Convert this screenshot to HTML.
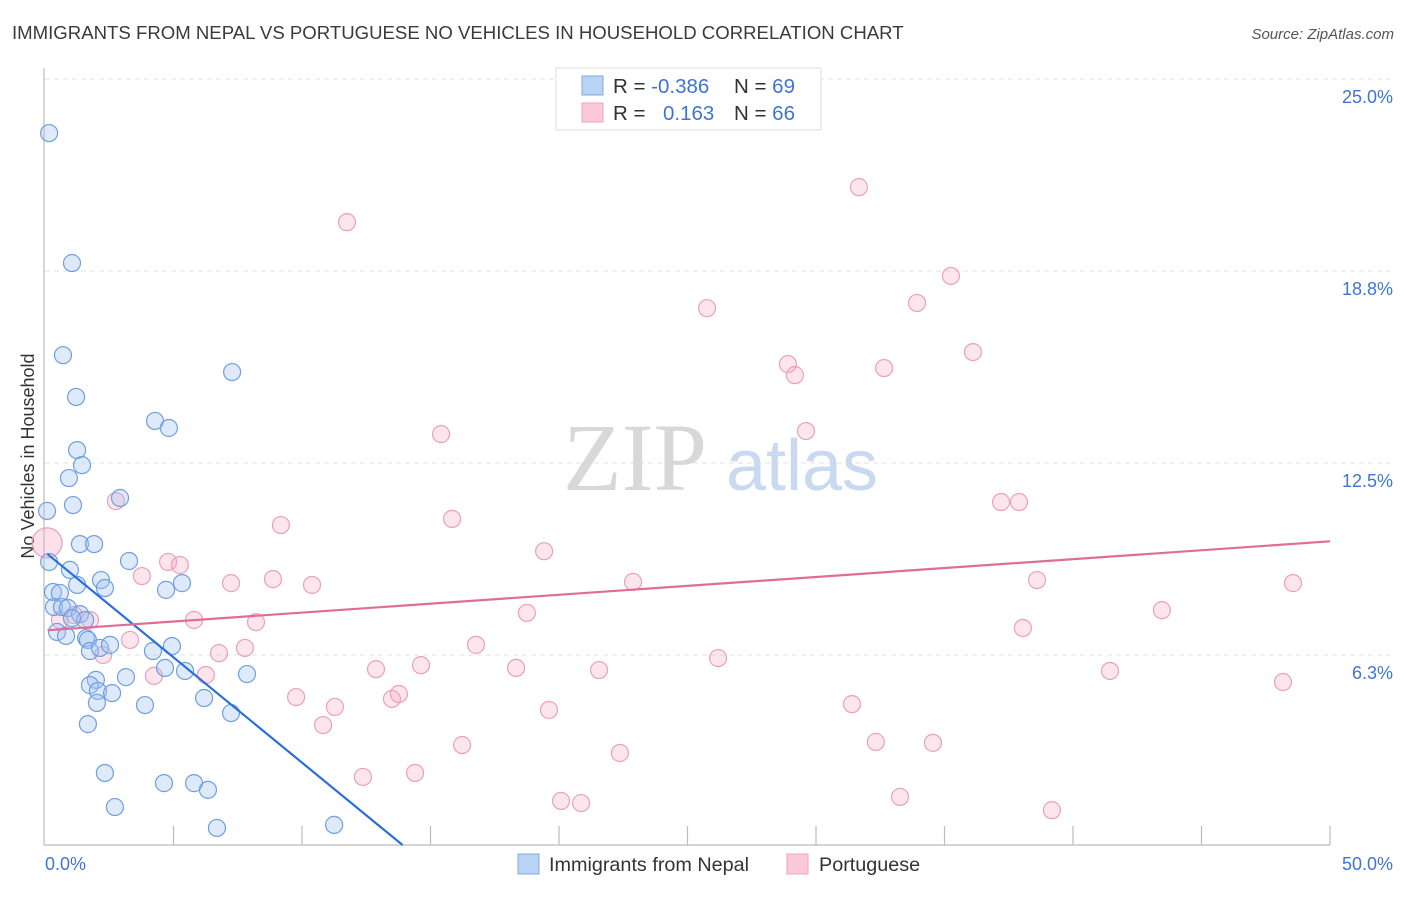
<!DOCTYPE html>
<html><head><meta charset="utf-8">
<style>
body{margin:0;background:#fff;font-family:"Liberation Sans",sans-serif;}
svg text{font-family:"Liberation Sans",sans-serif;}
</style></head>
<body>
<svg id="chart" width="1406" height="892" viewBox="0 0 1406 892">
<text x="12" y="39" font-size="18.6" fill="#3a3a3a">IMMIGRANTS FROM NEPAL VS PORTUGUESE NO VEHICLES IN HOUSEHOLD CORRELATION CHART</text>
<text x="1394" y="39" font-size="15" fill="#555" font-style="italic" text-anchor="end">Source: ZipAtlas.com</text>
<g id="grid"></g>
<g id="watermark">
<text x="635" y="490" font-size="96" fill="#d8d8d8" font-family="Liberation Serif,serif" text-anchor="middle" style="font-family:'Liberation Serif',serif">ZIP</text>
<text x="802" y="490" font-size="72" fill="#c9d9ef" text-anchor="middle">atlas</text>
</g>
<line x1="44" y1="68" x2="44" y2="845" stroke="#bbb" stroke-width="1.2"/>
<line x1="44" y1="845" x2="1330" y2="845" stroke="#bbb" stroke-width="1.2"/>
<g id="xticks"></g>
<g id="ylabels"></g>
<text x="45" y="870" font-size="18" fill="#3f74d6">0.0%</text>
<text x="1393" y="870" font-size="18" fill="#3f74d6" text-anchor="end">50.0%</text>
<text transform="translate(34,456) rotate(-90)" font-size="18" fill="#333" text-anchor="middle">No Vehicles in Household</text>
<g id="pinkpts"></g>
<g id="bluepts"></g>
<g id="lines"></g>
<g>
<rect x="556" y="68" width="265" height="62" fill="#fff" stroke="#ddd"/>
<rect x="582" y="76" width="21" height="19" fill="#b9d3f5" stroke="#7fa8e0"/>
<rect x="582" y="103" width="21" height="19" fill="#fbc9d8" stroke="#eea3bb"/>
<text x="613" y="93" font-size="20.5" fill="#333">R = <tspan fill="#3f74d6">-0.386</tspan></text>
<text x="734" y="93" font-size="20.5" fill="#333">N = <tspan fill="#3f74d6">69</tspan></text>
<text x="613" y="120" font-size="20.5" fill="#333">R = </text>
<text x="663" y="120" font-size="20.5" fill="#3f74d6">0.163</text>
<text x="734" y="120" font-size="20.5" fill="#333">N = <tspan fill="#3f74d6">66</tspan></text>
</g>
<g>
<rect x="518" y="854" width="21" height="20" fill="#b9d3f5" stroke="#7fa8e0"/>
<text x="549" y="871" font-size="19.8" fill="#333">Immigrants from Nepal</text>
<rect x="787" y="854" width="21" height="20" fill="#fbc9d8" stroke="#eea3bb"/>
<text x="819" y="871" font-size="19.8" fill="#333">Portuguese</text>
</g>
</svg>
<script>
const yTicks=[6.25,12.5,18.75,25];
const yTickLabels=["6.3%","12.5%","18.8%","25.0%"];
const xTicks=[5,10,15,20,25,30,35,40,45,50];
const blueX=[.16,1.05,.70,1.21,1.25,1.44,.93,1.09,.08,1.36,1.91,.16,.97,2.18,2.33,1.25,.31,.58,.35,.66,.89,1.36,1.56,.47,.82,1.60,1.67,1.75,2.14,2.53,2.92,3.27,5.33,4.71,4.28,4.82,7.28,4.94,4.20,4.67,5.45,3.15,1.98,1.75,2.06,2.61,2.02,3.89,6.19,7.24,7.86,1.67,2.33,4.63,5.80,6.34,2.72,6.69,11.25,1.05];
const blueY=[23.24,19.01,16.01,14.65,12.92,12.43,12.01,11.13,10.94,9.86,9.86,9.28,9.02,8.69,8.43,8.53,8.30,8.27,7.81,7.81,7.78,7.58,7.39,7.00,6.87,6.80,6.74,6.38,6.48,6.58,11.36,9.31,8.59,8.37,13.87,13.64,15.46,6.54,6.38,5.83,5.73,5.53,5.44,5.27,5.08,5.01,4.69,4.62,4.85,4.36,5.63,4.00,2.41,2.08,2.08,1.86,1.30,.62,.72,7.45];
const pinkX=[11.75,31.67,35.25,25.76,33.93,36.11,28.91,29.18,32.65,15.41,29.61,15.84,9.18,37.20,37.90,2.76,19.42,3.77,4.79,5.25,7.24,8.87,10.39,22.88,38.60,48.56,5.80,8.21,43.46,18.75,38.05,.58,1.75,3.31,2.26,6.77,7.78,16.77,4.24,6.26,12.88,14.63,18.33,21.56,26.19,41.44,48.17,9.77,13.50,13.77,11.28,19.61,31.40,10.82,16.23,22.37,32.33,34.55,12.37,14.40,20.08,20.86,33.27,39.18,1.13];
const pinkY=[20.34,21.48,18.59,17.54,17.71,16.11,15.72,15.36,15.59,13.44,13.54,10.68,10.48,11.23,11.23,11.26,9.63,8.82,9.28,9.18,8.59,8.72,8.53,8.63,8.69,8.59,7.39,7.32,7.71,7.62,7.13,7.39,7.39,6.74,6.25,6.31,6.48,6.58,5.57,5.60,5.79,5.92,5.83,5.76,6.15,5.73,5.37,4.88,4.82,4.98,4.56,4.46,4.65,3.97,3.32,3.06,3.42,3.39,2.28,2.41,1.50,1.43,1.63,1.20,7.55];
const bigPinkX=[.08], bigPinkY=[9.90];
const blueTrend=[9.6,-0.69]; // intercept, slope
const pinkTrend=[7.05,0.058];

const NS="http://www.w3.org/2000/svg";
const sx=v=>45+v/50*1285;
const sy=v=>847-v/25*768;
function mk(tag,attrs,parent){const e=document.createElementNS(NS,tag);for(const k in attrs)e.setAttribute(k,attrs[k]);parent.appendChild(e);return e;}
const grid=document.getElementById('grid'),yl=document.getElementById('ylabels'),xt=document.getElementById('xticks');
yTicks.forEach((t,i)=>{
  const l=mk('line',{x1:45,x2:1394,y1:sy(t),y2:sy(t),stroke:'#e2e2e2','stroke-dasharray':'5,4'},grid);
  
  
  const tx=mk('text',{x:1393,y:sy(t)+24,'font-size':18,fill:'#3f74d6','text-anchor':'end'},yl);
  tx.textContent=yTickLabels[i];
  
  
});
xTicks.forEach(t=>{
  const l=mk('line',{x1:sx(t),x2:sx(t),y1:826,y2:845,stroke:'#bbb','stroke-width':1.2},xt);
  
  
});
const pg=document.getElementById('pinkpts'),bg=document.getElementById('bluepts');
pinkX.forEach((x,i)=>{
  const c=mk('circle',{cx:sx(x),cy:sy(pinkY[i]),r:8.5,fill:'rgba(246,170,196,0.3)',stroke:'#eba0b9','stroke-width':1.2},pg);
  
  
});
bigPinkX.forEach((x,i)=>{
  const c=mk('circle',{cx:sx(x),cy:sy(bigPinkY[i]),r:15,fill:'rgba(246,170,196,0.35)',stroke:'#eba0b9','stroke-width':1.2},pg);
  
  
});
blueX.forEach((x,i)=>{
  const c=mk('circle',{cx:sx(x),cy:sy(blueY[i]),r:8.5,fill:'rgba(160,195,240,0.35)',stroke:'#6f9fe0','stroke-width':1.2},bg);
  
  
});
const lg=document.getElementById('lines');
const bx0=0.1,bx1=-blueTrend[0]/blueTrend[1];
const bl=mk('line',{x1:sx(bx0),y1:sy(blueTrend[0]+blueTrend[1]*bx0),x2:sx(bx1),y2:sy(0)-2,stroke:'#2a6fdb','stroke-width':2.2},lg);


const pl=mk('line',{x1:sx(0.1),y1:sy(pinkTrend[0]+pinkTrend[1]*0.1),x2:sx(50),y2:sy(pinkTrend[0]+pinkTrend[1]*50),stroke:'#e06c98','stroke-width':2.2},lg);


</script>
</body></html>
